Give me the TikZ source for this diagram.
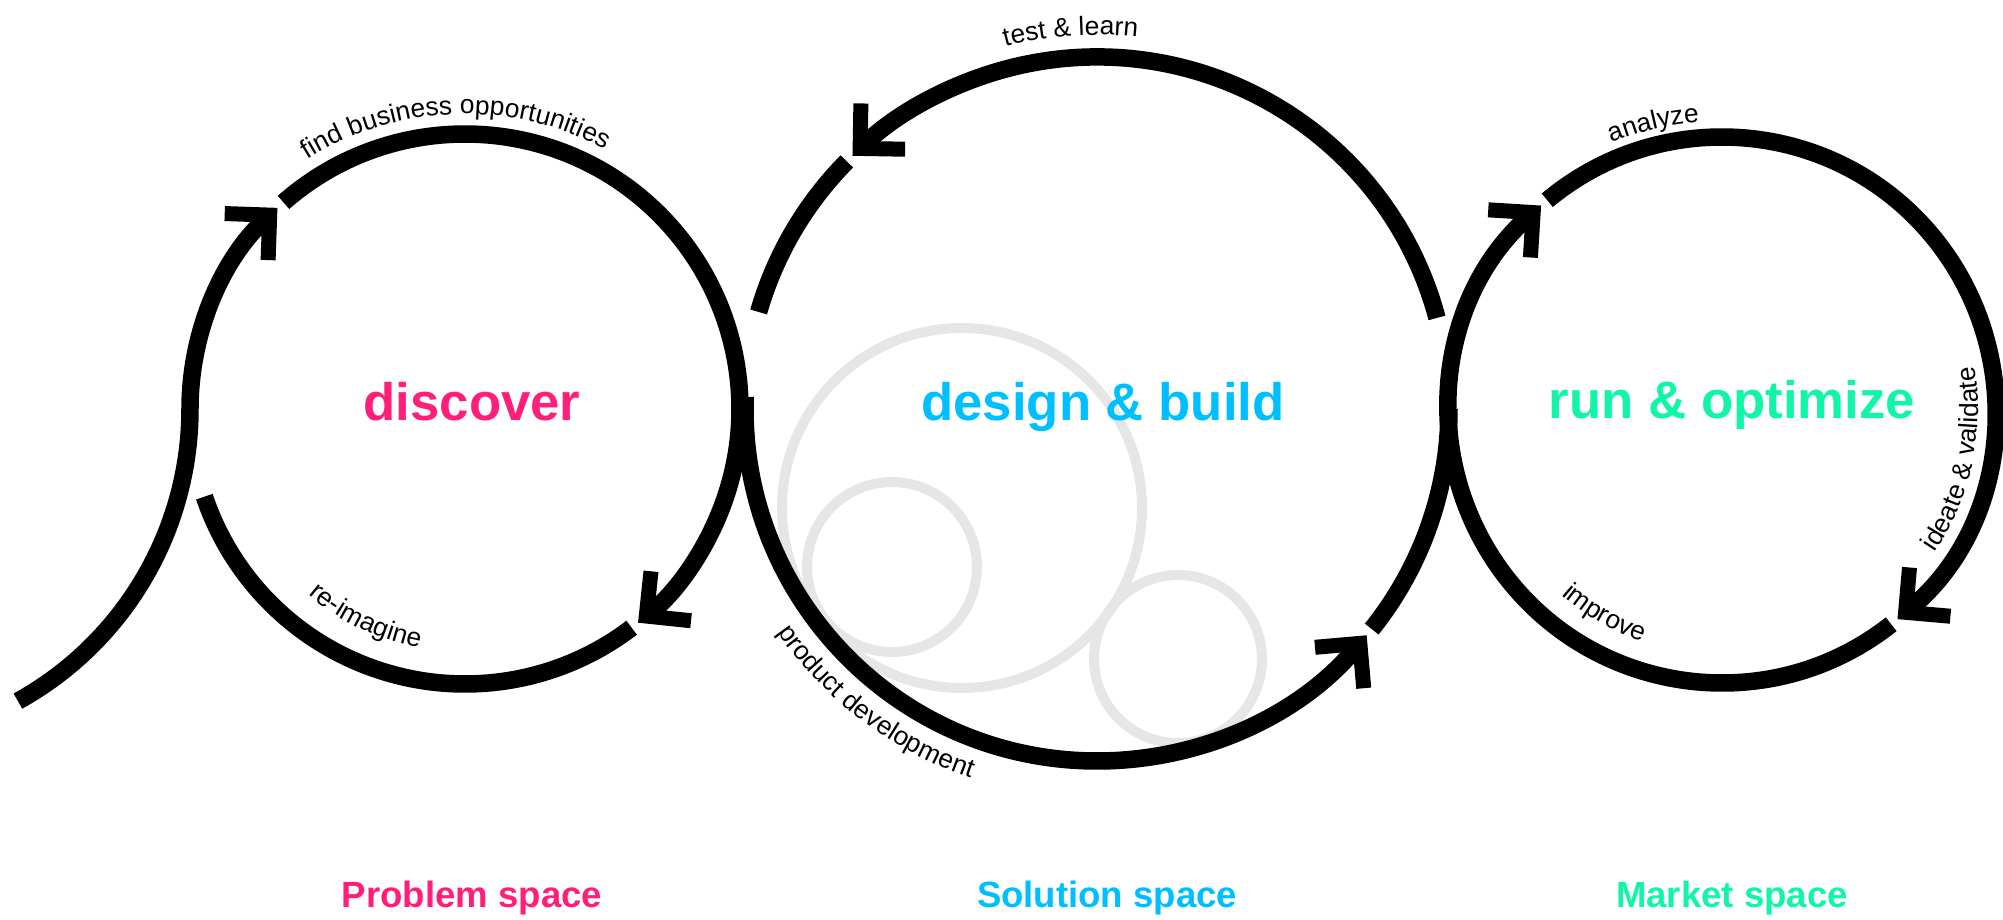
\documentclass[tikz,border=0pt]{standalone}
\usepackage{fontspec}
\setmainfont{Liberation Sans}
\usepackage{tikz}
\usepackage{xcolor}
\usetikzlibrary{decorations.text}
\usetikzlibrary{positioning, arrows.meta}

\definecolor{discoverpink}{HTML}{FF1F7A}
\definecolor{buildblue}{HTML}{00BFFF}
\definecolor{runmint}{HTML}{10F5A8}
\definecolor{ghostgray}{HTML}{E6E6E6}

\newcommand{\arcfont}{\fontsize{7.5}{9}\selectfont}

\begin{document}
\begin{tikzpicture}[x=0.1mm, y=0.1mm,
        ring/.style={draw=black, line width=1.75mm},
        ringtip/.style={-{Straight Barb[angle=90:4.5mm, line width=1.5mm, sharp]}},
        ghost/.style={draw=ghostgray, line width=1mm},
        phase/.style={font=\fontsize{15}{18}\selectfont\bfseries, anchor=base, inner sep=0pt},
        space/.style={font=\fontsize{10.4}{12}\selectfont\bfseries, anchor=base, inner sep=0pt},
        arclabel/.style={decorate, decoration={text along path, text align=center, text={|\arcfont|#1}}}]
                        \useasboundingbox (0,0) rectangle (2003,-920);

                        % Centres of the three loops and of the lead-in curve
                        \coordinate (c1) at (465,-409);
                        \coordinate (c2) at (1097,-409);
                        \coordinate (c3) at (1722,-410);
                        \coordinate (lead) at (-144,-409);

                        % Faint circles inside the middle loop
                        \draw[ghost] (962,-508) circle[radius=18mm];
                        \draw[ghost] (892,-567) circle[radius=8.5mm];
                        \draw[ghost] (1178,-659) circle[radius=8.4mm];

                        % Discover loop (clockwise), entered from the lead-in
                        \draw[ring, ringtip] (lead) ++(-61:33.4mm) arc[start angle=-61, end angle=0, radius=33.4mm]
                                arc[start angle=180, end angle=133, radius=27.5mm];
                        \draw[ring, ringtip] (c1) ++(131.3:27.5mm) arc[start angle=131.3, end angle=-51, radius=27.5mm];
                        \draw[ring] (c1) ++(-52.7:27.5mm) arc[start angle=-52.7, end angle=-161.4, radius=27.5mm];

                        % Design & build loop (counter-clockwise)
                        \draw[ring, ringtip] (c2) ++(15:35.2mm) arc[start angle=15, end angle=134, radius=35.2mm];
                        \draw[ring] (c2) ++(135.3:35.2mm) arc[start angle=135.3, end angle=164, radius=35.2mm];
                        \draw[ring, ringtip] (c2) ++(178:35.2mm) arc[start angle=178, end angle=320, radius=35.2mm];
                        \draw[ring] (c2) ++(321.3:35.2mm) arc[start angle=321.3, end angle=360, radius=35.2mm];

                        % Run & optimize loop (clockwise)
                        \draw[ring, ringtip] (c3) ++(129.8:27.3mm) arc[start angle=129.8, end angle=-50, radius=27.3mm];
                        \draw[ring, ringtip] (c3) ++(-51.7:27.3mm) arc[start angle=-51.7, end angle=-228.5, radius=27.3mm];

                        % Texts along the loops
                        \path[arclabel={find business opportunities}] (c1) ++(152:29.5mm) arc[start angle=152, end angle=32, radius=29.5mm];
                        \path[arclabel={re-imagine}] (c1) ++(200:24.3mm) arc[start angle=200, end angle=289, radius=24.3mm];
                        \path[arclabel={test {\&} learn}] (c2) ++(134:37.4mm) arc[start angle=134, end angle=54, radius=37.4mm];
                        \path[arclabel={product development}] (c2) ++(195:39mm) arc[start angle=195, end angle=271, radius=39mm];
                        \path[arclabel={analyze}] (c3) ++(133.5:28.9mm) arc[start angle=133.5, end angle=73.5, radius=28.9mm];
                        \path[arclabel={ideate {\&} validate}] (c3) ++(-52:25.6mm) arc[start angle=-52, end angle=28, radius=25.6mm];
                        \path[arclabel={improve}] (c3) ++(210:24.5mm) arc[start angle=210, end angle=270, radius=24.5mm];

                        % Phase names
                        \node[phase, text=discoverpink] (discover) at (472,-420) {discover};
                        \node[phase, text=buildblue] (build) at (1103,-420) {design \& build};
                        \node[phase, text=runmint] (run) at (1732,-418) {run \& optimize};

                        % Spaces below
                        \node[space, text=discoverpink] (problem) at (472,-907) {Problem space};
                        \node[space, text=buildblue] (solution) at (1107,-907) {Solution space};
                        \node[space, text=runmint] (market) at (1732,-907) {Market space};
        
                    \end{tikzpicture}
\end{document}
